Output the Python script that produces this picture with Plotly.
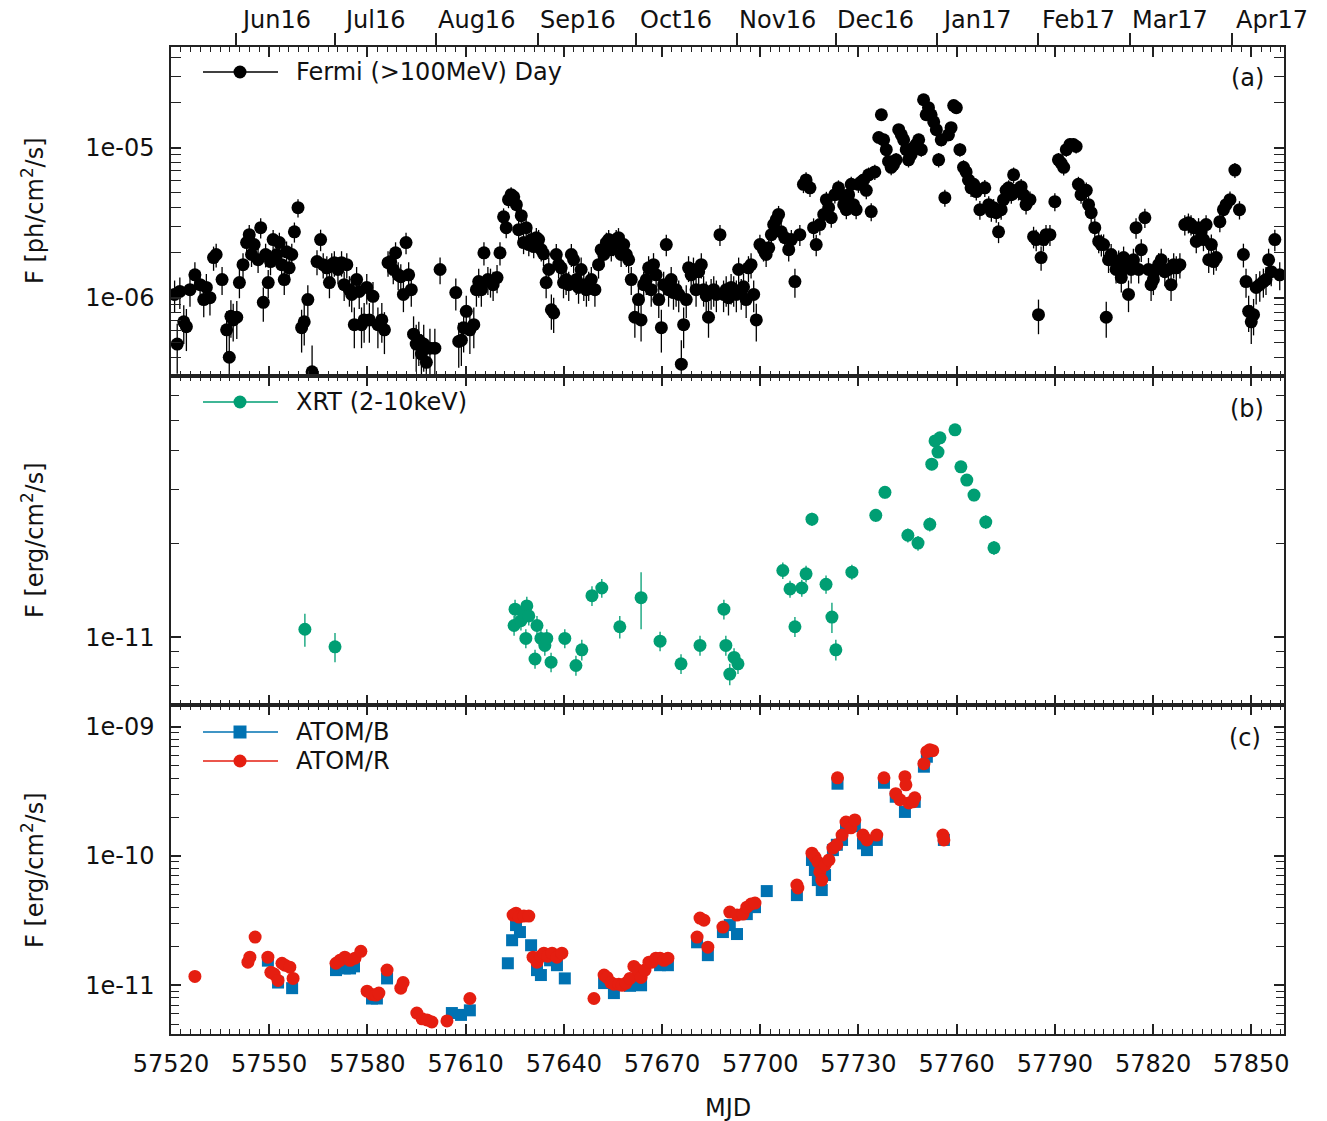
import numpy as np
import plotly.graph_objects as go

# ---------------- data ----------------
# Fermi-LAT daily light curve (>100 MeV), flux in units of 1e-6 ph/cm2/s
fermi_mjd = [
    57521.1, 57521.9, 57522.7, 57523.9, 57524.7, 57525.8, 57527.3, 57528.9, 57530.0, 57530.8,
    57531.9, 57533.0, 57533.8, 57535.6, 57537.0, 57537.8, 57538.3, 57539.0, 57540.1, 57540.9,
    57542.0, 57543.1, 57543.9, 57544.6, 57545.4, 57546.6, 57547.4, 57548.2, 57548.9, 57549.7,
    57550.4, 57551.2, 57552.3, 57553.1, 57553.8, 57554.6, 57555.3, 57556.1, 57556.9, 57557.7,
    57558.8, 57559.9, 57560.7, 57561.8, 57563.1, 57564.6, 57565.7, 57566.5, 57567.6, 57568.4,
    57569.1, 57569.9, 57571.0, 57572.1, 57572.9, 57573.7, 57574.5, 57575.2, 57576.0, 57576.7,
    57577.5, 57578.2, 57579.0, 57579.8, 57580.6, 57581.7, 57583.2, 57584.4, 57585.2, 57586.3,
    57587.1, 57587.9, 57588.6, 57589.4, 57590.2, 57591.0, 57591.8, 57592.6, 57593.4, 57594.1,
    57594.9, 57595.7, 57596.5, 57597.2, 57598.0, 57599.1, 57600.6, 57602.2, 57607.0, 57607.9,
    57608.7, 57609.4, 57610.2, 57611.3, 57612.5, 57613.3, 57614.0, 57614.8, 57615.6, 57616.8,
    57617.6, 57618.4, 57619.6, 57620.5, 57621.6, 57622.4, 57623.1, 57623.9, 57624.7, 57625.5,
    57626.2, 57627.0, 57627.7, 57628.5, 57629.3, 57630.1, 57630.8, 57631.6, 57632.3, 57633.1,
    57633.8, 57634.6, 57635.4, 57636.2, 57636.9, 57637.7, 57638.4, 57639.2, 57639.9, 57640.7,
    57641.5, 57642.3, 57643.0, 57643.8, 57644.5, 57645.3, 57646.1, 57646.9, 57647.6, 57648.4,
    57649.5, 57650.6, 57651.4, 57652.2, 57653.0, 57653.7, 57654.5, 57655.2, 57656.0, 57656.7,
    57657.5, 57658.3, 57659.1, 57659.8, 57660.6, 57661.7, 57662.8, 57663.6, 57664.4, 57665.2,
    57665.9, 57666.7, 57667.4, 57668.2, 57669.0, 57669.8, 57670.5, 57671.3, 57672.0, 57672.8,
    57673.5, 57674.3, 57675.1, 57675.9, 57676.6, 57677.4, 57678.1, 57678.9, 57679.6, 57680.4,
    57681.2, 57682.0, 57682.7, 57683.5, 57684.2, 57685.0, 57685.8, 57686.6, 57687.7, 57688.8,
    57689.6, 57690.3, 57691.1, 57691.9, 57692.7, 57693.4, 57694.2, 57694.9, 57695.7, 57696.4,
    57697.2, 57698.0, 57698.8, 57699.9, 57701.0, 57701.8, 57702.6, 57703.4, 57704.1, 57704.9,
    57705.6, 57706.4, 57707.5, 57708.7, 57709.5, 57710.6, 57712.1, 57713.2, 57714.0, 57715.2,
    57716.3, 57717.1, 57718.2, 57719.4, 57720.2, 57720.9, 57721.7, 57722.8, 57723.9, 57724.7,
    57725.5, 57726.3, 57727.0, 57727.8, 57728.5, 57729.3, 57730.0, 57730.8, 57731.6, 57732.4,
    57733.1, 57733.9, 57735.0, 57736.2, 57737.0, 57737.7, 57738.5, 57739.2, 57740.0, 57740.7,
    57741.5, 57742.3, 57743.1, 57743.8, 57744.6, 57745.3, 57746.1, 57746.8, 57747.6, 57748.4,
    57749.2, 57749.9, 57750.7, 57751.4, 57752.2, 57753.0, 57753.8, 57754.5, 57755.3, 57756.4,
    57757.5, 57758.3, 57759.1, 57759.9, 57761.0, 57762.1, 57762.9, 57763.6, 57764.4, 57765.2,
    57766.0, 57767.1, 57768.6, 57769.8, 57770.6, 57771.3, 57772.1, 57772.8, 57773.6, 57774.3,
    57775.1, 57775.9, 57776.7, 57777.4, 57778.2, 57778.9, 57779.7, 57780.4, 57781.2, 57782.4,
    57783.5, 57784.3, 57785.0, 57785.8, 57786.5, 57787.3, 57788.5, 57790.0, 57791.1, 57791.9,
    57792.7, 57793.5, 57794.6, 57795.7, 57796.5, 57797.2, 57798.0, 57798.8, 57799.6, 57800.3,
    57801.1, 57802.2, 57803.4, 57804.2, 57804.9, 57805.7, 57806.4, 57807.2, 57807.9, 57808.7,
    57809.5, 57810.3, 57811.0, 57811.8, 57812.5, 57813.3, 57814.0, 57814.8, 57815.6, 57816.4,
    57817.5, 57818.6, 57819.4, 57820.1, 57820.9, 57821.7, 57822.5, 57823.6, 57824.7, 57825.5,
    57826.3, 57827.1, 57828.2, 57829.7, 57830.8, 57831.6, 57832.4, 57833.2, 57833.9, 57834.7,
    57835.4, 57836.2, 57837.0, 57837.8, 57838.5, 57839.3, 57840.4, 57841.5, 57842.3, 57843.5,
    57845.0, 57846.4, 57847.6, 57848.4, 57849.2, 57850.0, 57850.7, 57851.5, 57852.6, 57853.7,
    57854.5, 57855.3, 57856.1, 57857.2, 57858.7,
]
fermi_flux = [
    1.05, 0.49, 1.10, 0.69, 0.64, 1.13, 1.42, 1.22, 0.97, 1.17,
    1.00, 1.85, 1.94, 1.32, 0.61, 0.40, 0.75, 0.71, 0.74, 1.26,
    1.66, 2.33, 2.63, 1.94, 2.26, 1.79, 2.93, 0.93, 1.94, 1.26,
    1.74, 2.44, 1.94, 2.33, 1.66, 1.32, 2.02, 1.58, 1.94, 2.75,
    3.98, 0.63, 0.69, 0.97, 0.32, 1.74, 2.44, 1.66, 1.58, 1.26,
    1.66, 1.71, 1.54, 1.71, 1.22, 1.66, 1.13, 1.05, 0.66, 1.32,
    1.10, 0.66, 0.71, 1.17, 0.71, 1.02, 0.66, 0.71, 0.61, 1.71,
    1.74, 1.54, 1.99, 1.42, 1.38, 1.05, 2.33, 1.42, 1.13, 0.57,
    0.49, 0.52, 0.42, 0.49, 0.37, 0.46, 0.46, 1.54, 1.08, 0.51,
    0.52, 0.63, 0.81, 0.61, 0.66, 1.13, 1.28, 1.13, 1.99, 1.32,
    1.28, 1.22, 1.36, 1.99, 3.46, 2.93, 4.50, 4.86, 4.71, 4.17,
    2.84, 3.52, 2.33, 2.93, 2.26, 2.44, 2.19, 2.51, 2.44, 2.09,
    1.96, 1.26, 1.54, 0.83, 0.79, 1.94, 1.66, 1.58, 1.26, 1.32,
    1.22, 1.94, 1.79, 1.32, 1.17, 1.54, 1.22, 1.13, 1.22, 1.32,
    1.13, 1.66, 2.09, 1.94, 2.33, 2.44, 2.09, 2.26, 2.44, 2.51,
    1.94, 2.26, 1.94, 1.79, 1.32, 0.74, 0.97, 0.71, 1.22, 1.32,
    1.58, 1.13, 1.66, 1.42, 0.97, 0.63, 1.22, 2.26, 1.13, 1.32,
    1.08, 1.13, 1.05, 0.36, 0.66, 0.97, 1.58, 1.42, 1.54, 1.13,
    1.49, 1.66, 1.13, 1.03, 0.74, 1.08, 1.13, 1.05, 2.63, 1.05,
    1.13, 1.00, 1.17, 1.13, 1.05, 1.54, 1.08, 1.18, 0.97, 1.58,
    1.66, 1.05, 0.71, 2.26, 2.09, 1.94, 2.15, 2.63, 3.07, 3.31,
    3.59, 2.75, 2.51, 2.09, 2.44, 1.28, 2.63, 5.7, 6.1, 5.4,
    2.93, 2.26, 3.07, 3.59, 4.50, 3.98, 3.41, 4.86, 5.4, 4.86,
    4.17, 3.86, 4.86, 5.7, 4.17, 3.86, 5.7, 5.9, 6.1, 5.2,
    6.6, 3.75, 6.9, 11.7, 16.6, 11.3, 9.7, 8.1, 7.4, 7.7,
    8.3, 13.2, 12.2, 11.3, 9.7, 8.3, 9.0, 10.0, 10.5, 11.3,
    9.7, 20.9, 16.6, 18.5, 16.6, 14.9, 13.2, 8.3, 11.3, 4.64,
    12.2, 13.6, 19.1, 18.5, 9.7, 7.4, 6.9, 6.1, 5.4, 5.7,
    5.1, 3.86, 5.4, 4.17, 3.75, 3.98, 3.69, 2.75, 3.86, 4.5,
    5.2, 5.4, 4.86, 6.6, 5.2, 5.1, 5.5, 4.86, 4.17, 4.5,
    2.55, 2.44, 0.77, 1.85, 2.44, 2.63, 2.63, 4.37, 8.3, 7.9,
    7.4, 9.7, 10.5, 10.5, 10.2, 5.7, 4.86, 5.1, 5.2, 4.17,
    3.69, 2.93, 2.37, 2.26, 2.26, 0.74, 1.79, 1.94, 1.79, 1.54,
    1.74, 1.36, 1.85, 1.61, 1.05, 1.54, 1.79, 2.93, 1.54, 2.09,
    3.41, 1.54, 1.22, 1.32, 1.54, 1.66, 1.79, 1.49, 1.54, 1.22,
    1.66, 1.58, 1.66, 3.07, 3.16, 3.07, 2.93, 2.37, 2.93, 2.75,
    2.44, 3.07, 1.79, 2.26, 1.74, 1.85, 3.21, 3.86, 4.17, 4.5,
    7.1, 3.86, 1.94, 1.28, 0.81, 0.69, 0.77, 1.17, 1.22, 1.28,
    1.32, 1.79, 1.49, 2.44, 1.42,
]
fermi_err = [
    0.25, 0.18, 0.26, 0.20, 0.20, 0.26, 0.30, 0.27, 0.23, 0.27,
    0.24, 0.34, 0.35, 0.28, 0.20, 0.17, 0.21, 0.20, 0.21, 0.27,
    0.32, 0.38, 0.42, 0.34, 0.37, 0.33, 0.45, 0.24, 0.35, 0.27,
    0.33, 0.39, 0.34, 0.38, 0.32, 0.28, 0.35, 0.31, 0.35, 0.42,
    0.55, 0.20, 0.21, 0.24, 0.16, 0.33, 0.40, 0.32, 0.31, 0.27,
    0.32, 0.33, 0.31, 0.33, 0.27, 0.32, 0.26, 0.25, 0.20, 0.28,
    0.26, 0.20, 0.21, 0.27, 0.21, 0.25, 0.20, 0.21, 0.19, 0.33,
    0.33, 0.31, 0.35, 0.30, 0.29, 0.25, 0.38, 0.30, 0.26, 0.18,
    0.17, 0.17, 0.15, 0.17, 0.14, 0.16, 0.16, 0.31, 0.26, 0.17,
    0.17, 0.20, 0.22, 0.19, 0.20, 0.26, 0.28, 0.26, 0.35, 0.28,
    0.28, 0.27, 0.29, 0.35, 0.48, 0.44, 0.55, 0.58, 0.56, 0.52,
    0.43, 0.48, 0.38, 0.44, 0.37, 0.39, 0.36, 0.40, 0.39, 0.35,
    0.34, 0.27, 0.31, 0.22, 0.21, 0.34, 0.32, 0.31, 0.27, 0.28,
    0.27, 0.34, 0.33, 0.28, 0.26, 0.31, 0.27, 0.26, 0.27, 0.28,
    0.26, 0.32, 0.35, 0.34, 0.38, 0.39, 0.35, 0.37, 0.39, 0.40,
    0.34, 0.37, 0.34, 0.33, 0.28, 0.20, 0.24, 0.20, 0.27, 0.28,
    0.31, 0.26, 0.32, 0.30, 0.24, 0.20, 0.27, 0.37, 0.26, 0.28,
    0.25, 0.26, 0.25, 0.16, 0.20, 0.24, 0.31, 0.30, 0.31, 0.26,
    0.30, 0.32, 0.26, 0.25, 0.20, 0.25, 0.26, 0.25, 0.42, 0.25,
    0.26, 0.24, 0.27, 0.26, 0.25, 0.31, 0.25, 0.27, 0.24, 0.31,
    0.32, 0.25, 0.20, 0.37, 0.35, 0.34, 0.36, 0.42, 0.46, 0.48,
    0.50, 0.43, 0.40, 0.35, 0.39, 0.28, 0.42, 0.72, 0.75, 0.70,
    0.45, 0.37, 0.46, 0.50, 0.58, 0.54, 0.49, 0.62, 0.66, 0.62,
    0.56, 0.53, 0.62, 0.70, 0.56, 0.53, 0.70, 0.72, 0.74, 0.66,
    0.78, 0.52, 0.80, 1.15, 1.45, 1.10, 1.00, 0.90, 0.85, 0.88,
    0.92, 1.20, 1.15, 1.10, 1.00, 0.92, 0.96, 1.02, 1.05, 1.10,
    1.00, 1.70, 1.45, 1.55, 1.45, 1.35, 1.25, 0.92, 1.10, 0.60,
    1.15, 1.25, 1.60, 1.55, 1.00, 0.85, 0.82, 0.75, 0.70, 0.72,
    0.66, 0.55, 0.70, 0.58, 0.54, 0.56, 0.53, 0.44, 0.55, 0.60,
    0.66, 0.68, 0.63, 0.78, 0.66, 0.65, 0.68, 0.63, 0.58, 0.60,
    0.42, 0.40, 0.20, 0.34, 0.40, 0.42, 0.42, 0.60, 0.92, 0.90,
    0.86, 1.00, 1.05, 1.05, 1.03, 0.70, 0.63, 0.65, 0.66, 0.58,
    0.54, 0.46, 0.39, 0.38, 0.38, 0.20, 0.33, 0.34, 0.33, 0.30,
    0.32, 0.28, 0.34, 0.31, 0.25, 0.30, 0.33, 0.46, 0.30, 0.36,
    0.50, 0.30, 0.27, 0.28, 0.30, 0.32, 0.33, 0.30, 0.30, 0.27,
    0.32, 0.31, 0.32, 0.47, 0.48, 0.47, 0.46, 0.39, 0.46, 0.44,
    0.40, 0.47, 0.33, 0.38, 0.32, 0.34, 0.48, 0.54, 0.57, 0.60,
    0.82, 0.54, 0.35, 0.28, 0.22, 0.20, 0.21, 0.27, 0.28, 0.28,
    0.28, 0.33, 0.30, 0.40, 0.30,
]

# Swift-XRT 2-10 keV, flux in units of 1e-11 erg/cm2/s
xrt_mjd = [
    57560.9, 57570.1, 57624.8, 57625.1, 57626.9, 57627.8, 57628.4, 57628.7, 57629.3, 57631.2,
    57631.8, 57633.0, 57634.2, 57634.8, 57636.1, 57640.3, 57643.7, 57645.5, 57648.6, 57651.6,
    57657.1, 57663.6, 57669.4, 57675.8, 57681.6, 57688.9, 57689.5, 57690.7, 57692.0, 57693.2,
    57706.9, 57709.1, 57710.6, 57712.7, 57714.0, 57715.8, 57720.1, 57721.9, 57723.1, 57728.0,
    57735.3, 57738.1, 57745.1, 57748.2, 57751.8, 57752.4, 57753.4, 57754.3, 57754.9, 57759.5,
    57761.3, 57763.1, 57765.3, 57768.9, 57771.4,
]
xrt_flux = [
    1.06, 0.93, 1.09, 1.23, 1.13, 1.20, 0.99, 1.26, 1.17, 0.85,
    1.09, 0.99, 0.94, 0.99, 0.83, 0.99, 0.81, 0.91, 1.36, 1.44,
    1.08, 1.34, 0.97, 0.82, 0.94, 1.23, 0.94, 0.76, 0.86, 0.82,
    1.64, 1.43, 1.08, 1.44, 1.60, 2.40, 1.48, 1.16, 0.91, 1.62,
    2.47, 2.93, 2.13, 2.01, 2.31, 3.61, 4.29, 3.95, 4.39, 4.66,
    3.54, 3.21, 2.87, 2.35, 1.94,
]
xrt_err = [
    0.13, 0.10, 0.08, 0.09, 0.08, 0.09, 0.07, 0.09, 0.08, 0.06,
    0.08, 0.07, 0.07, 0.07, 0.06, 0.07, 0.06, 0.07, 0.10, 0.10,
    0.09, 0.28, 0.07, 0.06, 0.07, 0.09, 0.07, 0.06, 0.06, 0.06,
    0.10, 0.09, 0.08, 0.09, 0.10, 0.12, 0.10, 0.13, 0.07, 0.09,
    0.12, 0.13, 0.11, 0.11, 0.12, 0.16, 0.18, 0.17, 0.16, 0.17,
    0.15, 0.14, 0.13, 0.12, 0.10,
]

# ATOM optical photometry, flux in units of 1e-11 erg/cm2/s
atom_b_mjd = [
    57549.6, 57552.7, 57557.0, 57570.4, 57573.1, 57574.7, 57575.9, 57581.4, 57582.9, 57586.0,
    57605.8, 57608.6, 57611.3, 57622.9, 57624.2, 57625.4, 57626.6, 57630.0, 57631.8, 57633.0,
    57635.8, 57637.9, 57640.3, 57652.3, 57655.3, 57660.2, 57663.6, 57669.4, 57671.8, 57680.7,
    57684.0, 57688.6, 57690.7, 57692.9, 57695.9, 57698.4, 57702.0, 57711.2, 57715.8, 57716.7,
    57717.6, 57718.8, 57719.8, 57722.2, 57723.4, 57723.6, 57725.0, 57726.2, 57728.9, 57731.4,
    57732.6, 57735.6, 57737.8, 57741.4, 57744.2, 57747.2, 57750.0, 57750.9, 57756.1,
]
atom_b_flux = [
    1.55, 1.05, 0.95, 1.31, 1.35, 1.35, 1.40, 0.79, 0.79, 1.13,
    0.61, 0.59, 0.64, 1.48, 2.23, 2.92, 2.58, 2.04, 1.31, 1.20,
    1.56, 1.43, 1.13, 1.04, 0.87, 0.99, 1.00, 1.43, 1.43, 2.15,
    1.71, 2.58, 2.92, 2.49, 3.55, 4.02, 5.35, 4.98, 9.31, 7.79,
    6.51, 5.45, 7.12, 11.1, 12.2, 36.2, 13.3, 16.5, 17.0, 12.5,
    11.1, 13.3, 36.8, 28.7, 21.9, 26.2, 49.0, 58.5, 13.3,
]
atom_r_mjd = [
    57527.3, 57543.5, 57544.1, 57545.7, 57549.6, 57550.5, 57551.5, 57552.7, 57553.9, 57554.8,
    57556.3, 57557.3, 57570.4, 57571.6, 57573.1, 57574.7, 57576.2, 57578.0, 57579.9, 57581.4,
    57582.6, 57583.5, 57586.0, 57590.2, 57590.9, 57595.1, 57596.7, 57598.2, 57599.7, 57604.3,
    57611.3, 57624.5, 57625.4, 57626.3, 57627.8, 57629.3, 57630.6, 57631.8, 57633.0, 57633.9,
    57635.1, 57636.4, 57637.9, 57639.4, 57649.2, 57652.3, 57653.2, 57654.4, 57655.3, 57656.8,
    57657.8, 57659.0, 57660.2, 57661.4, 57662.6, 57663.6, 57664.8, 57666.0, 57666.9, 57668.1,
    57669.4, 57670.6, 57671.8, 57680.7, 57681.6, 57682.8, 57684.0, 57688.6, 57690.7, 57692.9,
    57694.7, 57695.9, 57697.2, 57698.4, 57711.2, 57711.5, 57715.8, 57716.7, 57717.6, 57718.2,
    57718.8, 57719.8, 57721.0, 57722.2, 57723.4, 57723.6, 57725.0, 57726.2, 57727.7, 57728.9,
    57731.4, 57732.6, 57735.6, 57737.8, 57741.4, 57742.7, 57744.2, 57744.5, 57745.4, 57746.6,
    57747.2, 57750.0, 57750.9, 57751.8, 57752.7, 57755.8, 57756.1,
]
atom_r_flux = [
    1.17, 1.51, 1.65, 2.36, 1.65, 1.26, 1.22, 1.09, 1.48, 1.43,
    1.38, 1.13, 1.48, 1.56, 1.65, 1.56, 1.62, 1.83, 0.90, 0.85,
    0.84, 0.87, 1.31, 0.95, 1.05, 0.61, 0.55, 0.54, 0.52, 0.53,
    0.79, 3.49, 3.61, 3.37, 3.43, 3.43, 1.65, 1.51, 1.68, 1.77,
    1.68, 1.77, 1.65, 1.77, 0.79, 1.20, 1.15, 1.05, 1.02, 1.02,
    1.00, 1.04, 1.13, 1.40, 1.31, 1.15, 1.31, 1.51, 1.51, 1.62,
    1.62, 1.56, 1.62, 2.36, 3.31, 3.19, 1.97, 2.82, 3.68, 3.49,
    3.55, 4.02, 4.25, 4.32, 5.96, 5.65, 10.5, 9.8, 8.98, 7.52,
    6.51, 8.51, 9.31, 11.5, 12.2, 40.2, 14.5, 18.3, 16.5, 19.0,
    14.5, 13.3, 14.5, 40.2, 30.3, 27.2, 41.0, 35.5, 25.7, 26.2,
    28.2, 51.7, 64.0, 66.3, 65.2, 14.5, 13.3,
]

# axis ticks
mjd_ticks = [57520, 57550, 57580, 57610, 57640, 57670, 57700, 57730, 57760, 57790, 57820, 57850]
mjd_tick_text = [str(v) for v in mjd_ticks]
month_mjd = [57540, 57570, 57601, 57632, 57662, 57693, 57723, 57754, 57785, 57813, 57844]
month_labels = ["Jun16", "Jul16", "Aug16", "Sep16", "Oct16", "Nov16", "Dec16",
                "Jan17", "Feb17", "Mar17", "Apr17"]

# ---------------- figure ----------------
W, H = 1327, 1121
ML, MR, MT, MB = 171, 43, 47, 87
PW, PH = W - ML - MR, H - MT - MB
AX = "#222222"
FONT = "DejaVu Sans"
FS = 24
XR = [57520, 57860]


def px(xp):
    return (xp - ML) / PW


def py(yp):
    return (H - MB - yp) / PH


def log_minor(lo_exp, hi_exp):
    vals = []
    for e in range(lo_exp, hi_exp + 1):
        for m in range(2, 10):
            vals.append(m * 10.0 ** e)
    return vals


fig = go.Figure()

fig.add_trace(go.Scatter(
    x=fermi_mjd, y=np.array(fermi_flux) * 1e-6, mode="markers",
    marker=dict(color="black", size=13),
    error_y=dict(type="data", array=np.array(fermi_err) * 1e-6, color="black",
                 thickness=1.3, width=0),
    xaxis="x", yaxis="y", name="Fermi (>100MeV) Day"))

fig.add_trace(go.Scatter(
    x=xrt_mjd, y=np.array(xrt_flux) * 1e-11, mode="markers",
    marker=dict(color="#009e73", size=13),
    error_y=dict(type="data", array=np.array(xrt_err) * 1e-11, color="#009e73",
                 thickness=1.3, width=0),
    xaxis="x2", yaxis="y2", name="XRT (2-10keV)"))

fig.add_trace(go.Scatter(
    x=atom_b_mjd, y=np.array(atom_b_flux) * 1e-11, mode="markers",
    marker=dict(color="#0072b2", size=12, symbol="square"),
    xaxis="x3", yaxis="y3", name="ATOM/B"))

fig.add_trace(go.Scatter(
    x=atom_r_mjd, y=np.array(atom_r_flux) * 1e-11, mode="markers",
    marker=dict(color="#e51e10", size=13),
    xaxis="x3", yaxis="y3", name="ATOM/R"))

# empty trace that anchors the calendar-month axis on top
fig.add_trace(go.Scatter(x=month_mjd, y=[None] * len(month_mjd), mode="markers",
                         xaxis="x4", yaxis="y", showlegend=False, hoverinfo="skip"))


def xaxis(domain_anchor, labels):
    return dict(
        range=XR, anchor=domain_anchor, tickmode="array", tickvals=mjd_ticks,
        ticktext=mjd_tick_text,
        ticks="inside", ticklen=10, tickwidth=1.5, tickcolor=AX,
        showline=True, linecolor=AX, linewidth=1.5, mirror="allticks",
        showgrid=False, zeroline=False, showticklabels=labels,
        tickfont=dict(size=FS, family=FONT, color="#111"), ticklabelstandoff=7,
        minor=dict(ticks="inside", ticklen=5, tickwidth=1.2, tickcolor=AX,
                   tick0=57520, dtick=3, showgrid=False),
    )


def yaxis(domain, rng, majors, texts, minors):
    return dict(
        type="log", domain=domain, range=rng, tickmode="array",
        tickvals=majors, ticktext=texts,
        ticks="inside", ticklen=10, tickwidth=1.5, tickcolor=AX,
        showline=True, linecolor=AX, linewidth=1.5, mirror="allticks",
        showgrid=False, zeroline=False,
        tickfont=dict(size=FS, family=FONT, color="#111"), ticklabelstandoff=10,
        minor=dict(tickmode="array", tickvals=minors, ticks="inside", ticklen=8,
                   tickwidth=1.2, tickcolor=AX, showgrid=False),
    )


third = 1.0 / 3.0
fig.update_layout(
    width=W, height=H, margin=dict(l=ML, r=MR, t=MT, b=MB),
    paper_bgcolor="white", plot_bgcolor="white", showlegend=False,
    font=dict(family=FONT, size=FS, color="#111"),
    xaxis=xaxis("y", False),
    xaxis2=xaxis("y2", False),
    xaxis3=xaxis("y3", True),
    xaxis4=dict(range=XR, overlaying="x", anchor="y", side="top", tickmode="array",
                tickvals=month_mjd, ticks="outside", ticklen=13, tickwidth=1.5,
                tickcolor=AX, showticklabels=False, showline=False,
                showgrid=False, zeroline=False),
    yaxis=yaxis([2 * third, 1], [np.log10(3.0e-7), np.log10(4.7e-5)],
                [1e-6, 1e-5], ["1e-06", "1e-05"], log_minor(-7, -5)),
    yaxis2=yaxis([third, 2 * third], [np.log10(6.04e-12), np.log10(6.95e-11)],
                 [1e-11], ["1e-11"], log_minor(-12, -11)),
    yaxis3=yaxis([0, third], [np.log10(4.2e-12), np.log10(1.47e-9)],
                 [1e-11, 1e-10, 1e-9], ["1e-11", "1e-10", "1e-09"], log_minor(-12, -9)),
)

ann = []
# calendar month labels above the top panel
for m, lab in zip(month_mjd, month_labels):
    ann.append(dict(x=m, xref="x", y=py(20), yref="paper", text=lab, showarrow=False,
                    xshift=40, xanchor="center", yanchor="middle",
                    font=dict(size=FS, family=FONT, color="#111")))

# y-axis titles
for yc, txt in [(211, "F [ph/cm<sup>2</sup>/s]"), (540, "F [erg/cm<sup>2</sup>/s]"),
                (870, "F [erg/cm<sup>2</sup>/s]")]:
    ann.append(dict(x=px(33), y=py(yc), xref="paper", yref="paper", text=txt,
                    textangle=-90, showarrow=False, xanchor="center", yanchor="middle",
                    font=dict(size=FS, family=FONT, color="#111")))

# x-axis title
ann.append(dict(x=0.5, y=py(1108), xref="paper", yref="paper", text="MJD", showarrow=False,
                xanchor="center", yanchor="middle", font=dict(size=FS, family=FONT, color="#111")))

# panel tags
for xc, yc, txt in [(1247, 78, "(a)"), (1247, 409, "(b)"), (1245, 738, "(c)")]:
    ann.append(dict(x=px(xc), y=py(yc), xref="paper", yref="paper", text=txt, showarrow=False,
                    xanchor="center", yanchor="middle",
                    font=dict(size=FS, family=FONT, color="#111")))

# in-panel legend entries: line sample, marker, label
legend_rows = [
    (72, "black", "circle", "Fermi (>100MeV) Day"),
    (402, "#009e73", "circle", "XRT (2-10keV)"),
    (732, "#0072b2", "square", "ATOM/B"),
    (761, "#e51e10", "circle", "ATOM/R"),
]
shapes = []
for yc, col, sym, txt in legend_rows:
    shapes.append(dict(type="line", xref="paper", yref="paper", x0=px(203), x1=px(278),
                       y0=py(yc), y1=py(yc), line=dict(color=col, width=1.5)))
    shapes.append(dict(type="circle" if sym == "circle" else "rect",
                       xref="paper", yref="paper", xsizemode="pixel", ysizemode="pixel",
                       xanchor=px(240), yanchor=py(yc), x0=-6.5, x1=6.5, y0=-6.5, y1=6.5,
                       fillcolor=col, line=dict(color=col, width=0)))
    ann.append(dict(x=px(294), y=py(yc), xref="paper", yref="paper", text=txt, showarrow=False,
                    xanchor="left", yanchor="middle",
                    font=dict(size=FS, family=FONT, color="#111")))

fig.update_layout(annotations=ann, shapes=shapes)

fig.write_html("out.html")
